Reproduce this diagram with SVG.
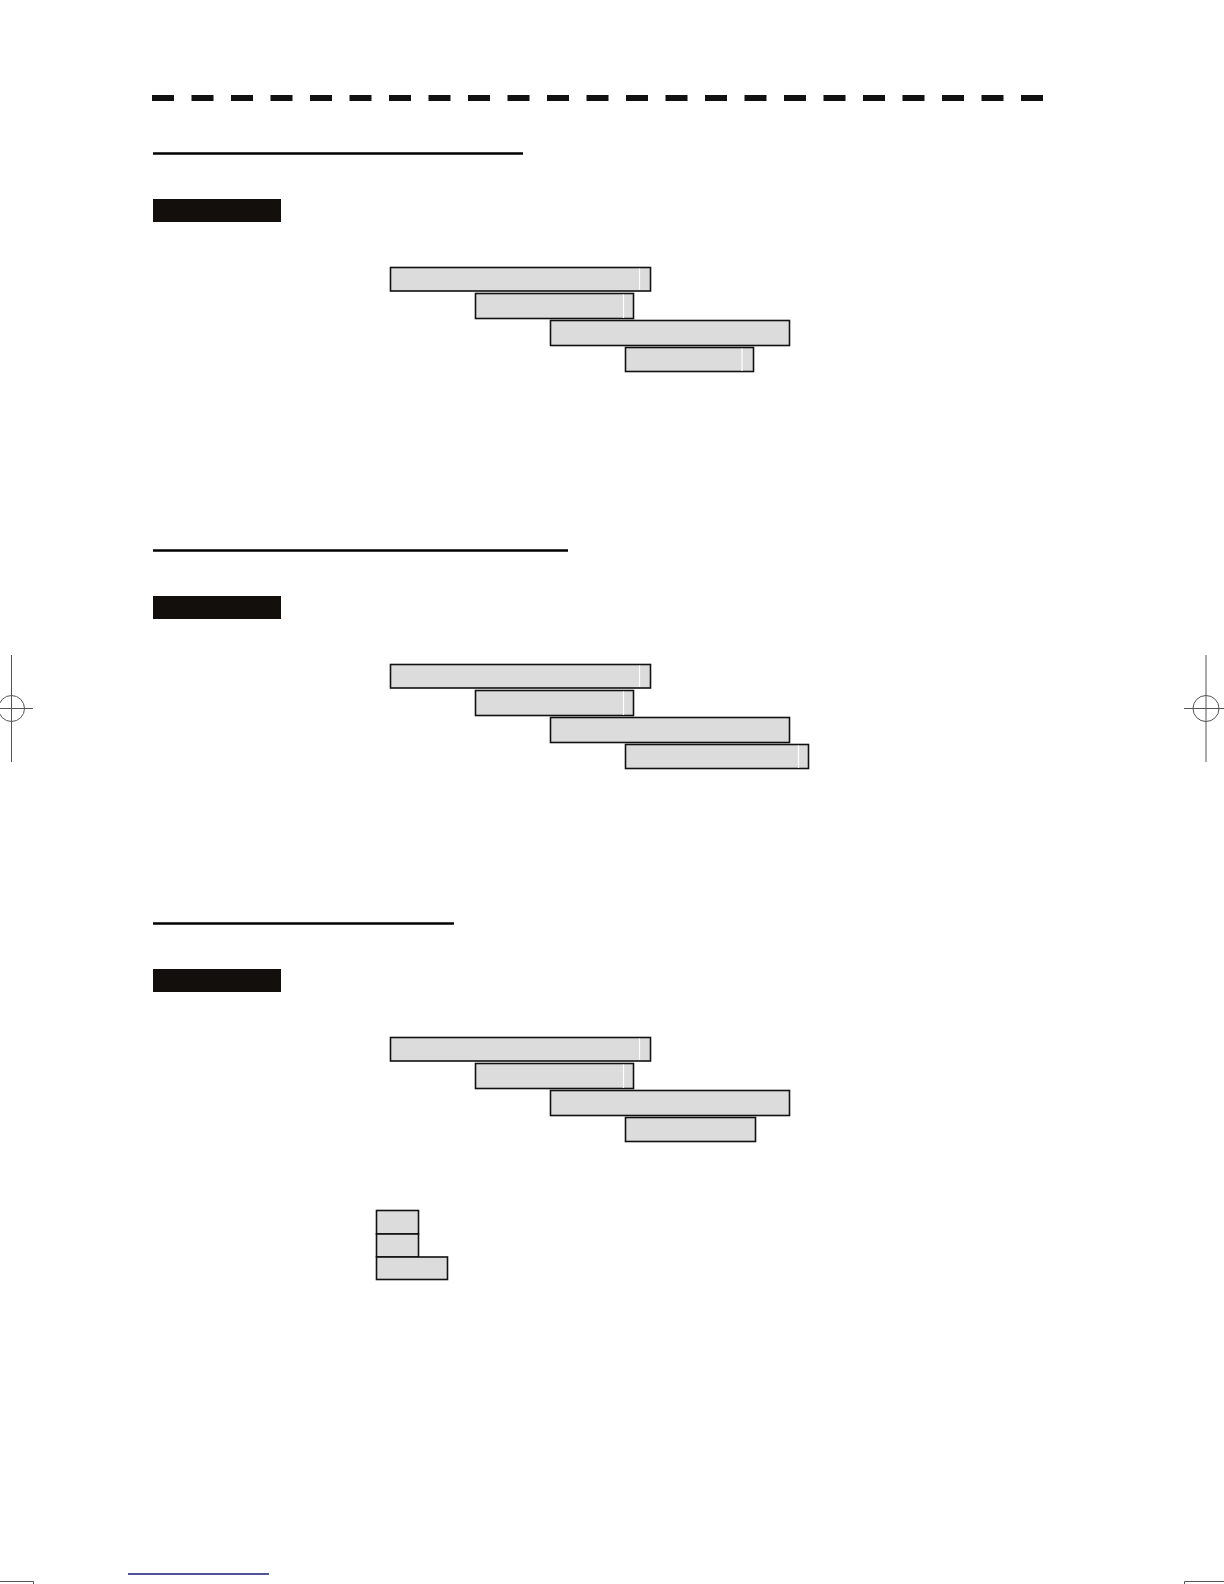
<svg xmlns="http://www.w3.org/2000/svg" width="1224" height="1584" viewBox="0 0 1224 1584">
<defs>
<style>
.bar{fill:#dcdcdc;stroke:#111;stroke-width:1.6}
.hl{stroke:#fff;stroke-width:1.2}
.ul{stroke:#000;stroke-width:2.5}
.blk{fill:#120f0c}
.crop{stroke:#555;stroke-width:1;fill:none}
</style>
<g id="sec">
<rect class="blk" x="153" y="199" width="128" height="23"/>
<rect class="bar" x="390.5" y="267.5" width="260" height="23.5"/>
<line class="hl" x1="639.5" y1="268.5" x2="639.5" y2="290"/>
<rect class="bar" x="475.5" y="293.5" width="158" height="25"/>
<line class="hl" x1="623.5" y1="294.5" x2="623.5" y2="318"/>
<rect class="bar" x="550.5" y="320.5" width="239" height="25"/>
</g>
</defs>
<rect width="1224" height="1584" fill="#fff"/>
<g id="dashline">
<line x1="152" y1="98" x2="1044" y2="98" stroke="#111" stroke-width="6" stroke-dasharray="22 17.5"/>
</g>
<g id="section1">
<line class="ul" x1="153" y1="153.5" x2="523" y2="153.5"/>
<use href="#sec"/>
<rect class="bar" x="625.5" y="347.5" width="128" height="24"/>
<line class="hl" x1="742" y1="348.5" x2="742" y2="371"/>
</g>
<g id="section2">
<line class="ul" x1="153" y1="550.5" x2="568" y2="550.5"/>
<use href="#sec" transform="translate(0,397)"/>
<rect class="bar" x="625.5" y="744.5" width="183" height="24"/>
<line class="hl" x1="798.5" y1="745.5" x2="798.5" y2="768"/>
</g>
<g id="section3">
<line class="ul" x1="153" y1="923.5" x2="454" y2="923.5"/>
<use href="#sec" transform="translate(0,770)"/>
<rect class="bar" x="625.5" y="1117.5" width="130" height="24"/>
<rect class="bar" x="376.5" y="1210.5" width="42" height="23.5"/>
<rect class="bar" x="376.5" y="1234" width="42" height="23"/>
<rect class="bar" x="376.5" y="1257" width="71" height="22.5"/>
</g>
<g id="cropmarks">
<line class="crop" x1="11.5" y1="655" x2="11.5" y2="762"/>
<line class="crop" x1="0" y1="708.5" x2="33" y2="708.5"/>
<circle class="crop" cx="11.5" cy="708.5" r="13"/>
<line class="crop" x1="1206" y1="655" x2="1206" y2="762" stroke="#999"/>
<line class="crop" x1="1184" y1="708.5" x2="1224" y2="708.5"/>
<circle class="crop" cx="1206" cy="708.5" r="13"/>
<polyline class="crop" points="0,1581.5 33.5,1581.5 33.5,1584"/>
<polyline class="crop" points="1224,1581.5 1184.5,1581.5 1184.5,1584"/>
<line x1="128" y1="1574" x2="269" y2="1574" stroke="#1a1a7a" stroke-width="1.5"/>
</g>
</svg>
